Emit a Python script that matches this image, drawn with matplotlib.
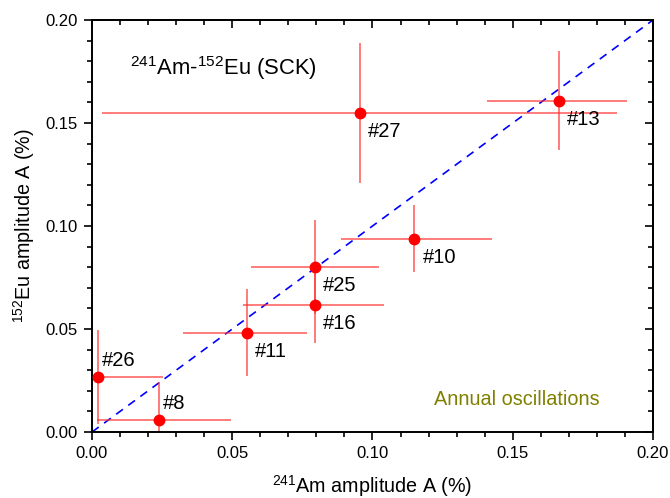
import numpy as np
import matplotlib
matplotlib.use("Agg")
import matplotlib.pyplot as plt
from matplotlib.ticker import MultipleLocator, FormatStrFormatter

plt.rcParams['font.family'] = ['Liberation Sans', 'DejaVu Sans']
plt.rcParams['mathtext.fontset'] = 'custom'
plt.rcParams['mathtext.rm'] = 'Liberation Sans'

# sample labels and amplitudes (%)
labels = ['#27', '#13', '#10', '#25', '#16', '#11', '#26', '#8']
am_amp = [0.0955, 0.1664, 0.1149, 0.0794, 0.0795, 0.0551, 0.0020, 0.0239]
am_err_lo = [0.0920, 0.0255, 0.0260, 0.0228, 0.0255, 0.0228, 0.0233, 0.0222]
am_err_hi = [0.0915, 0.0245, 0.0278, 0.0228, 0.0245, 0.0215, 0.0233, 0.0257]
eu_amp = [0.1550, 0.1608, 0.0938, 0.0802, 0.0615, 0.0482, 0.0267, 0.0057]
eu_err = [0.0340, 0.0240, 0.0162, 0.0227, 0.0182, 0.0212, 0.0227, 0.0187]
# label above the point (True) or below it
label_up = [False, False, False, False, False, False, True, True]

fig = plt.figure(figsize=(6.7, 4.98), dpi=100)
ax = fig.add_axes([0.1373, 0.1325, 0.8373, 0.8273])

ax.plot([0, 0.2], [0, 0.2], color='#0000ff', ls=(0, (5, 4)), lw=1.2, zorder=1)

ax.errorbar(am_amp, eu_amp, xerr=[am_err_lo, am_err_hi], yerr=eu_err, fmt='none',
            ecolor='#ff3030', elinewidth=1.1, capsize=0, alpha=0.8, zorder=2)
ax.plot(am_amp, eu_amp, 'o', color='#ff0000', ms=7.5, zorder=3)

for i in range(len(labels)):
    if label_up[i]:
        off = (3, 5)
        va = 'bottom'
    else:
        off = (6, -6.5)
        va = 'top'
    ax.annotate(labels[i], (am_amp[i], eu_amp[i]), xytext=off,
                textcoords='offset points', fontsize=14.5, va=va, ha='left')

ax.text(0.0135, 0.1767, r'$\mathregular{^{241}}$Am-$\mathregular{^{152}}$Eu (SCK)',
        fontsize=15.8, ha='left', va='center')
ax.text(0.1515, 0.016, 'Annual oscillations', color='#808000',
        fontsize=14.3, ha='center', va='center')

ax.set_xlim(0, 0.2)
ax.set_ylim(0, 0.2)
for a in (ax.xaxis, ax.yaxis):
    a.set_major_locator(MultipleLocator(0.05))
    a.set_minor_locator(MultipleLocator(0.01))
    a.set_major_formatter(FormatStrFormatter('%.2f'))

ax.tick_params(which='both', direction='out', top=False, right=False,
               labelsize=12, width=1.2, pad=4)
ax.tick_params(which='major', length=6)
ax.tick_params(which='minor', length=3.5)
# inward ticks on top and right
axt = ax.secondary_xaxis('top')
axt.xaxis.set_major_locator(MultipleLocator(0.05))
axt.xaxis.set_minor_locator(MultipleLocator(0.01))
axt.tick_params(which='both', direction='in', labeltop=False, width=1.2)
axt.tick_params(which='major', length=6)
axt.tick_params(which='minor', length=3.5)
axr = ax.secondary_yaxis('right')
axr.yaxis.set_major_locator(MultipleLocator(0.05))
axr.yaxis.set_minor_locator(MultipleLocator(0.01))
axr.tick_params(which='both', direction='in', labelright=False, width=1.2)
axr.tick_params(which='major', length=6)
axr.tick_params(which='minor', length=3.5)
for s in list(ax.spines.values()) + [axt.spines['top'], axr.spines['right']]:
    s.set_linewidth(1.4)

ax.set_xlabel(r'$\mathregular{^{241}}$Am amplitude A (%)', fontsize=14.2, labelpad=9)
ax.set_ylabel(r'$\mathregular{^{152}}$Eu amplitude A (%)', fontsize=14.2, labelpad=6)

plt.savefig('out.png', dpi=100)
